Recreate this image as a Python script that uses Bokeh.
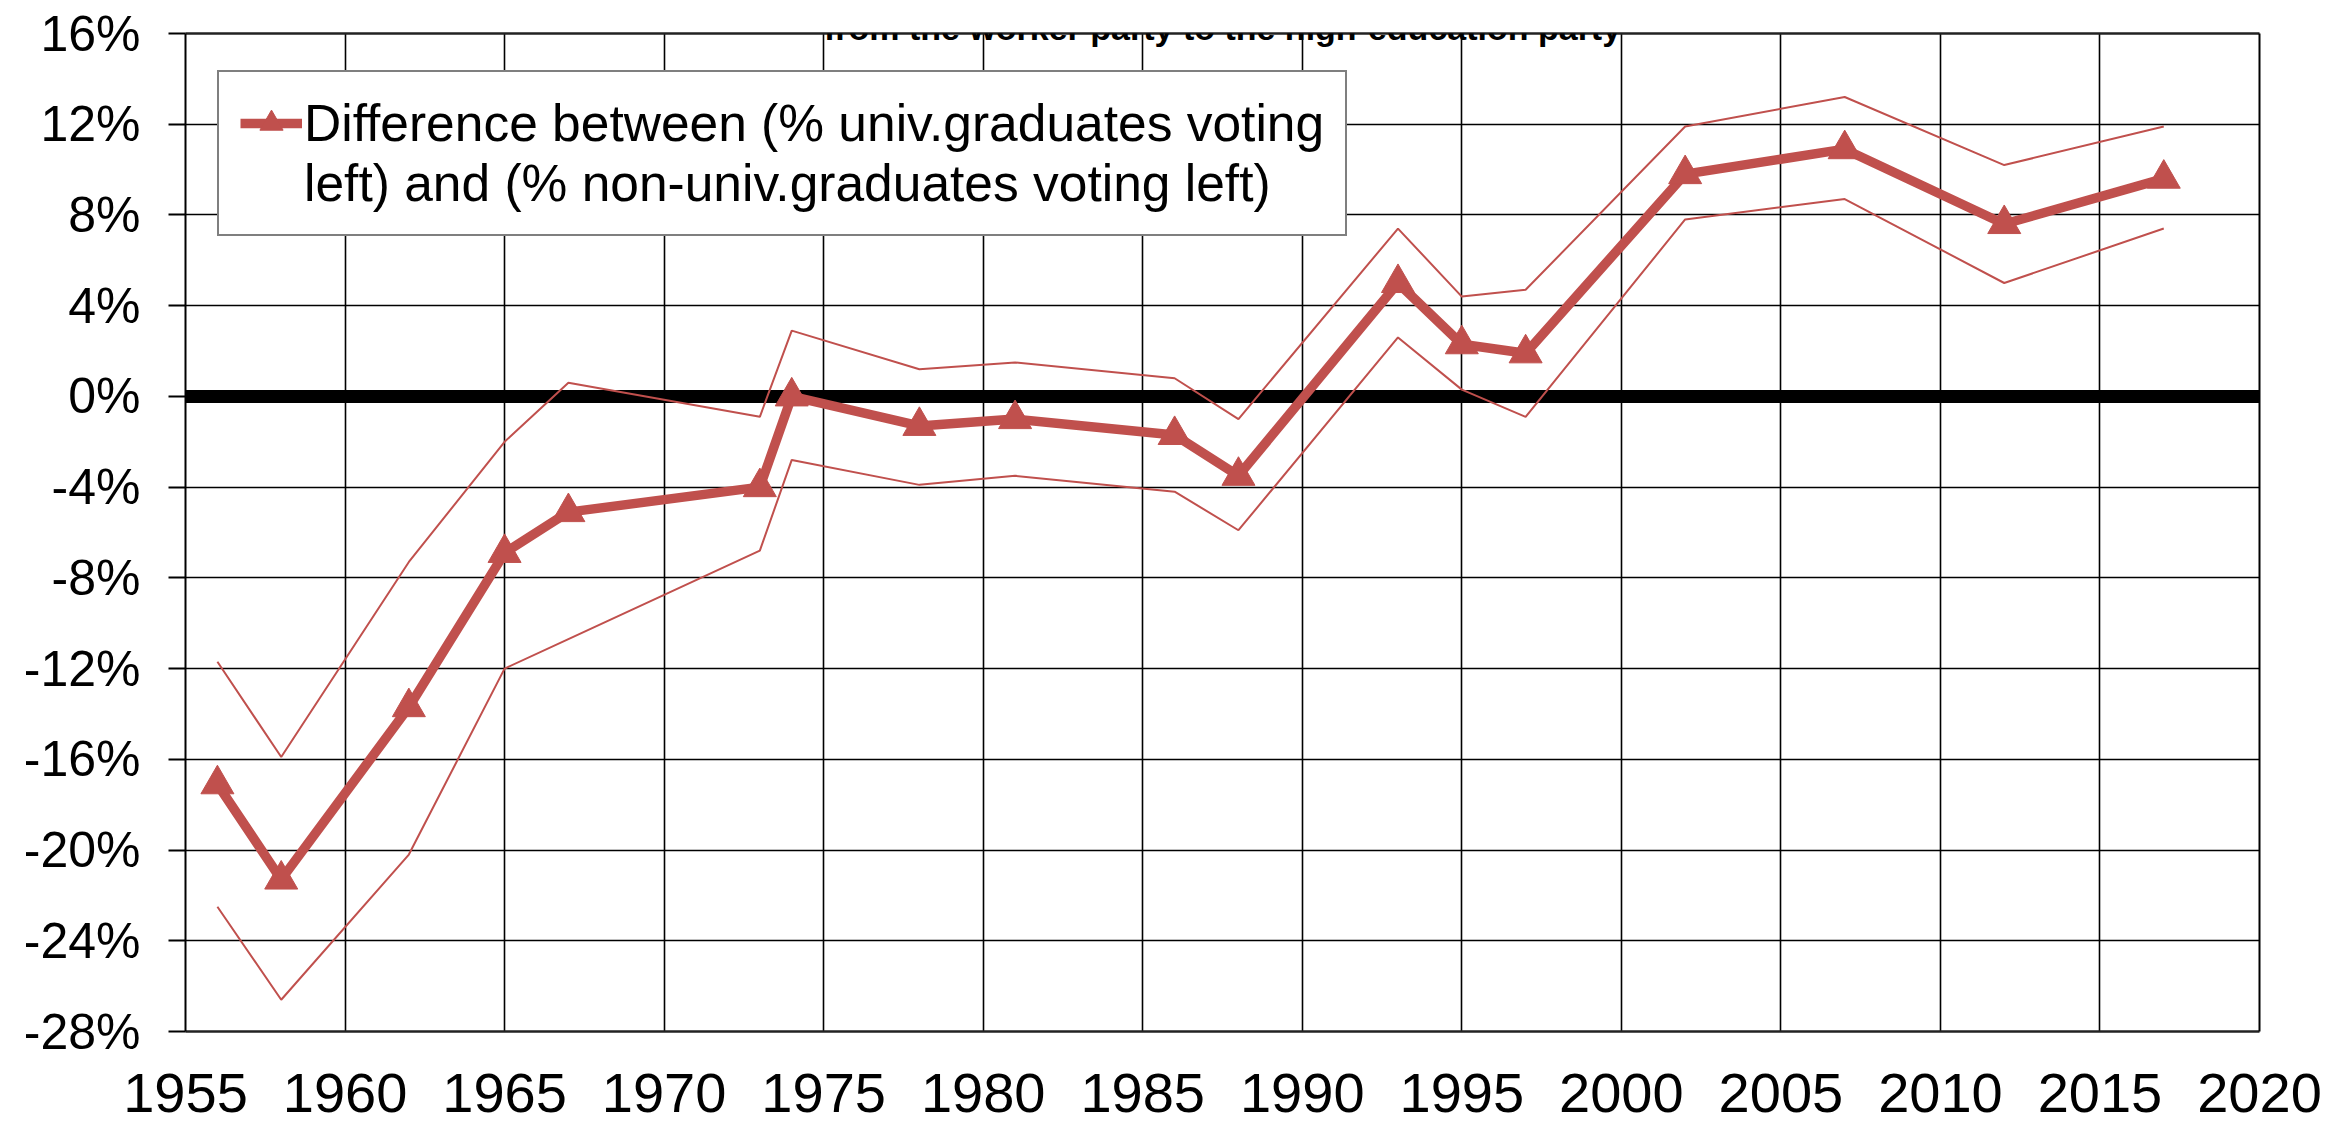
from bokeh.plotting import figure
from bokeh.models import (FixedTicker, PrintfTickFormatter, Span, Legend,
                          LegendItem, Label, Range1d, LinearAxis)
from bokeh.embed import file_html
from bokeh.resources import INLINE

# ---- data ----
years = [1956, 1958, 1962, 1965, 1967, 1973, 1974, 1978, 1981, 1986, 1988,
         1993, 1995, 1997, 2002, 2007, 2012, 2017]
diff = [-17.1, -21.3, -13.7, -6.9, -5.1, -4.0, 0.0, -1.3, -1.0, -1.7, -3.5,
        5.0, 2.3, 1.9, 9.8, 10.9, 7.6, 9.6]
upper = [-11.7, -15.9, -7.3, -2.0, 0.6, -0.9, 2.9, 1.2, 1.5, 0.8, -1.0,
         7.4, 4.4, 4.7, 11.9, 13.2, 10.2, 11.9]
lower = [-22.5, -26.6, -20.2, -12.0, -10.7, -6.8, -2.8, -3.9, -3.5, -4.2, -5.9,
         2.6, 0.3, -0.9, 7.8, 8.7, 5.0, 7.4]

x_ticks = list(range(1955, 2021, 5))
y_ticks = list(range(-28, 17, 4))
x_lo, x_hi = 1955, 2020
y_lo, y_hi = -28, 16

title_text = "from the worker party to the high-education party"
legend_line1 = "Difference between (% univ.graduates voting"
legend_line2 = "left) and (% non-univ.graduates voting left)"

RED = "#C0504D"
FONT = "Liberation Sans"

W, H = 2330, 1123
FRAME_L, FRAME_R, FRAME_T, FRAME_B = 185, 2259, 33, 1031
ppu = (FRAME_B - FRAME_T) / (y_hi - y_lo)          # pixels per percent

p = figure(width=W, height=H, output_backend="svg", toolbar_location=None,
           x_range=Range1d(x_lo, x_hi), y_range=Range1d(y_lo, y_hi),
           min_border_left=FRAME_L, min_border_right=W - FRAME_R,
           min_border_top=FRAME_T, min_border_bottom=H - FRAME_B)
p.background_fill_color = "white"
p.border_fill_color = "white"
p.outline_line_color = None

xa = p.xaxis[0]
xa.ticker = FixedTicker(ticks=x_ticks)
xa.axis_line_color = "#222222"
xa.axis_line_width = 2.5
xa.major_tick_out = 0
xa.major_tick_in = 0
xa.minor_tick_line_color = None
xa.major_label_text_font = FONT
xa.major_label_text_font_size = "56px"
xa.major_label_text_color = "black"
xa.major_label_standoff = 42

ya = p.yaxis[0]
ya.ticker = FixedTicker(ticks=y_ticks)
ya.formatter = PrintfTickFormatter(format="%d%%")
ya.axis_line_color = "black"
ya.axis_line_width = 2
ya.major_tick_line_color = "black"
ya.major_tick_line_width = 2
ya.major_tick_out = 17
ya.major_tick_in = 0
ya.minor_tick_line_color = None
ya.major_label_text_font = FONT
ya.major_label_text_font_size = "50px"
ya.major_label_text_color = "black"
ya.major_label_standoff = 28

# plain border lines on top and right
top_ax = LinearAxis(ticker=FixedTicker(ticks=[]), axis_line_color="#222222",
                    axis_line_width=2.5, major_tick_out=0, major_tick_in=0,
                    minor_tick_out=0, minor_tick_in=0, major_label_standoff=0,
                    major_label_text_font_size="0px")
p.add_layout(top_ax, "above")
right_ax = LinearAxis(ticker=FixedTicker(ticks=[]),
                      axis_line_color="black", axis_line_width=2,
                      major_tick_out=0, major_tick_in=0, minor_tick_out=0,
                      minor_tick_in=0, major_label_standoff=0,
                      major_label_text_font_size="0px")
p.add_layout(right_ax, "right")

# grid
p.xgrid.ticker = FixedTicker(ticks=x_ticks)
p.ygrid.ticker = FixedTicker(ticks=y_ticks)
for g in (p.xgrid[0], p.ygrid[0]):
    g.grid_line_color = "black"
    g.grid_line_width = 1.6
    g.grid_line_alpha = 1

# zero line
p.add_layout(Span(location=0, dimension="width", line_color="black",
                  line_width=13, level="underlay"))

# confidence bands
p.line(years, upper, line_color=RED, line_width=2)
p.line(years, lower, line_color=RED, line_width=2)

# main series
main_line = p.line(years, diff, line_color=RED, line_width=9.5)
main_marks = p.scatter(years, diff, marker="triangle", size=33,
                       fill_color=RED, line_color=RED)

# second legend line carries no symbol
blank = p.line(x=[], y=[], line_alpha=0)

LEG_H = 164
legend = Legend(items=[LegendItem(label=legend_line1,
                                  renderers=[main_line, main_marks]),
                       LegendItem(label=legend_line2, renderers=[blank])],
                location=(32, (FRAME_B - FRAME_T) - 39 - LEG_H),
                label_text_font=FONT,
                label_text_font_size="51.5px", label_text_color="black",
                glyph_width=62, glyph_height=58, padding=21, spacing=0,
                label_standoff=2, border_line_color="black",
                border_line_width=2, background_fill_color="white",
                background_fill_alpha=1, margin=0)
p.add_layout(legend)

# title
p.add_layout(Label(x=(x_lo + x_hi) / 2, y=y_hi + 6 / ppu, text=title_text,
                   text_align="center", text_baseline="alphabetic",
                   text_font=FONT, text_font_style="bold",
                   text_font_size="34px", text_color="black"))

open("out.html", "w").write(file_html(p, INLINE))
